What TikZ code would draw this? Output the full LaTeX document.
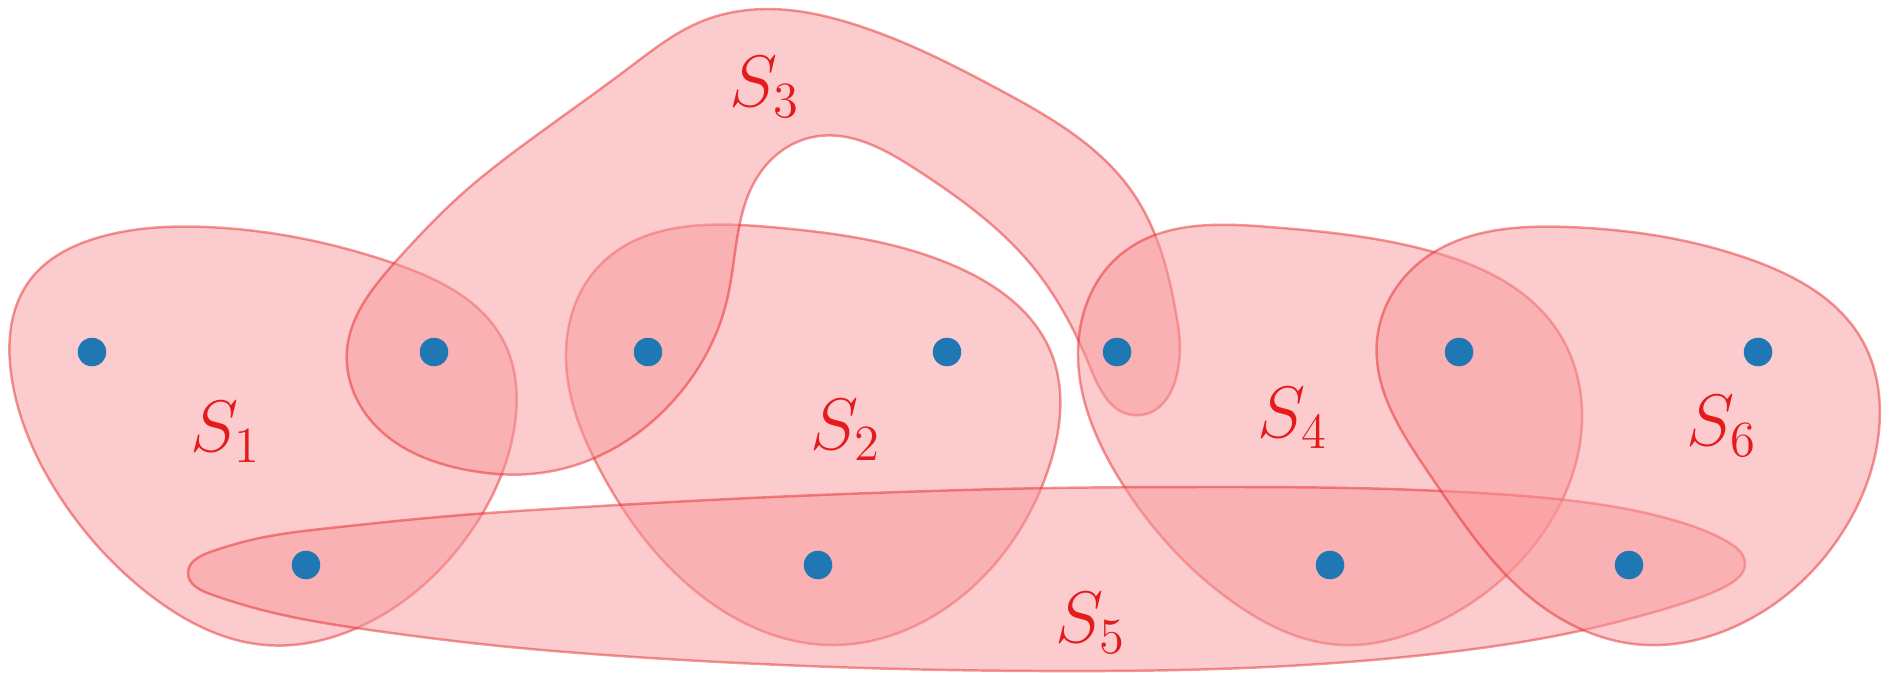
\documentclass[tikz,border=0pt]{standalone}
\usepackage{tikz}
\usetikzlibrary{hobby}
\definecolor{VertexBlue}{HTML}{1F77B4}
\definecolor{EdgeFill}{RGB}{249,151,155}
\definecolor{EdgeLine}{HTML}{E41A1C}
\definecolor{LabelRed}{HTML}{E41A1C}
\tikzset{
  hedge/.style={fill=EdgeFill,fill opacity=0.5,draw=EdgeLine,draw opacity=0.45,line width=0.7pt,line join=round},
  vertex/.style={circle,fill=VertexBlue,inner sep=0pt,minimum size=0.285cm},
  hlabel/.style={text=LabelRed,inner sep=0pt,font=\fontsize{21.3}{25}\selectfont}
}
\begin{document}
\begin{tikzpicture}[x=0.01cm,y=-0.01cm]
  \useasboundingbox (0,0) rectangle (1889,672);
  % hyperedges S1 ... S6
  \draw[hedge] plot[closed hobby] coordinates {(207,227) (393,263) (503,340) (514,430) (467,537) (357,628) (265,645) (150,595) (60,497) (12,380) (30,280) (100,237)};
  \draw[hedge] plot[closed hobby] coordinates {(770,227) (957,267) (1050,350) (1047,473) (957,600) (830,645) (707,600) (600,470) (566,360) (600,265)};
  \draw[hedge] plot[closed hobby] coordinates {(540,473) (680,393) (727,300) (760,173) (813,137) (917,170) (1033,267) (1090,367) (1133,415) (1178,325) (1133,193) (1000,90) (850,23) (770,9) (700,22) (630,67) (530,140) (463,193) (397,260) (347,350) (373,423) (467,470)};
  \draw[hedge] plot[closed hobby] coordinates {(1270,227) (1437,253) (1555,327) (1582,410) (1543,533) (1427,627) (1343,645) (1230,600) (1120,480) (1078,350) (1120,255)};
  \draw[hedge] plot[closed hobby] coordinates {(188,573) (210,552) (255,539) (330,528) (450,516) (600,506) (750,498) (900,492) (1050,488) (1200,487) (1350,488) (1480,493) (1590,503) (1680,522) (1728,542) (1745,564) (1728,585) (1690,601) (1640,616) (1560,635) (1450,652) (1320,664) (1180,670) (1040,671) (900,669) (760,664) (620,656) (490,645) (370,630) (270,612) (210,594)};
  \draw[hedge] plot[closed hobby] coordinates {(1569,227) (1752,260) (1862,340) (1879,430) (1842,533) (1719,633) (1646,645) (1540,605) (1430,475) (1377,340) (1420,262)};
  % vertices
  \foreach \name/\x/\y in {a1/92/352,a2/434/352,a3/648/352,a4/947/352,a5/1117/352,a6/1459/352,a7/1758/352,b1/306/565,b2/818/565,b3/1330/565,b4/1629/565}
    \node[vertex] (\name) at (\x,\y) {};
  % labels
  \node[hlabel] (s1) at (226,432) {$S_1$};
  \node[hlabel] (s2) at (846,430) {$S_2$};
  \node[hlabel] (s3) at (765,87) {$S_3$};
  \node[hlabel] (s4) at (1293,418) {$S_4$};
  \node[hlabel] (s5) at (1091,623) {$S_5$};
  \node[hlabel] (s6) at (1722,426) {$S_6$};
\end{tikzpicture}
\end{document}
